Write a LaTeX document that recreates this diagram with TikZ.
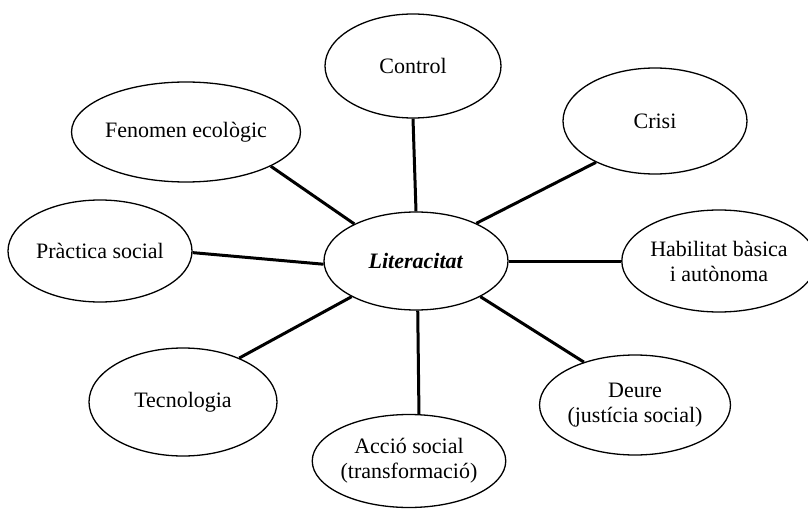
\documentclass[tikz,border=0pt]{standalone}
\usepackage{fontspec}
\setmainfont{Liberation Serif}
\usetikzlibrary{shapes.geometric}
\begin{document}
\begin{tikzpicture}[x=1pt,y=-1pt,
  bubble/.style={ellipse, draw, line width=1.3pt, inner sep=0pt, align=center,
    font=\fontsize{22}{25}\selectfont},
  link/.style={line width=3pt}]
\useasboundingbox (0,0) rectangle (808,513);

% central concept
\node[bubble, minimum width=184pt, minimum height=98pt] (lit) at (416,261)
  {\textbf{\textit{Literacitat}}};

% surrounding concepts
\node[bubble, minimum width=176pt, minimum height=104pt] (ctrl) at (413,66) {Control};
\node[bubble, minimum width=188pt, minimum height=100pt] (fen) at (186,132) {Fenomen ecològic};
\node[bubble, minimum width=184pt, minimum height=106pt] (crisi) at (655,121) {Crisi};
\node[bubble, minimum width=174pt, minimum height=102pt] (hab) at (719,261) {Habilitat bàsica\\i autònoma};
\node[bubble, minimum width=186pt, minimum height=100pt] (deure) at (635,405) {Deure\\(justícia social)};
\node[bubble, minimum width=174pt, minimum height=93pt] (accio) at (409,461) {Acció social\\(transformació)};
\node[bubble, minimum width=188pt, minimum height=108pt] (tec) at (183,402) {Tecnologia};
\node[bubble, minimum width=184pt, minimum height=102pt] (prac) at (100,251) {Pràctica social};

% spokes
\draw[link] (ctrl.south) -- (lit.north);
\draw[link] (fen.-22) -- (lit.149);
\draw[link] (crisi.-145) -- (lit.32);
\draw[link] (prac.-1) -- (lit.182);
\draw[link] (lit.east) -- (hab.west);
\draw[link] (tec.38) -- (lit.-151);
\draw[link] (deure.140) -- (lit.-29);
\draw[link] (lit.-88) -- (accio.78);
\end{tikzpicture}
\end{document}
